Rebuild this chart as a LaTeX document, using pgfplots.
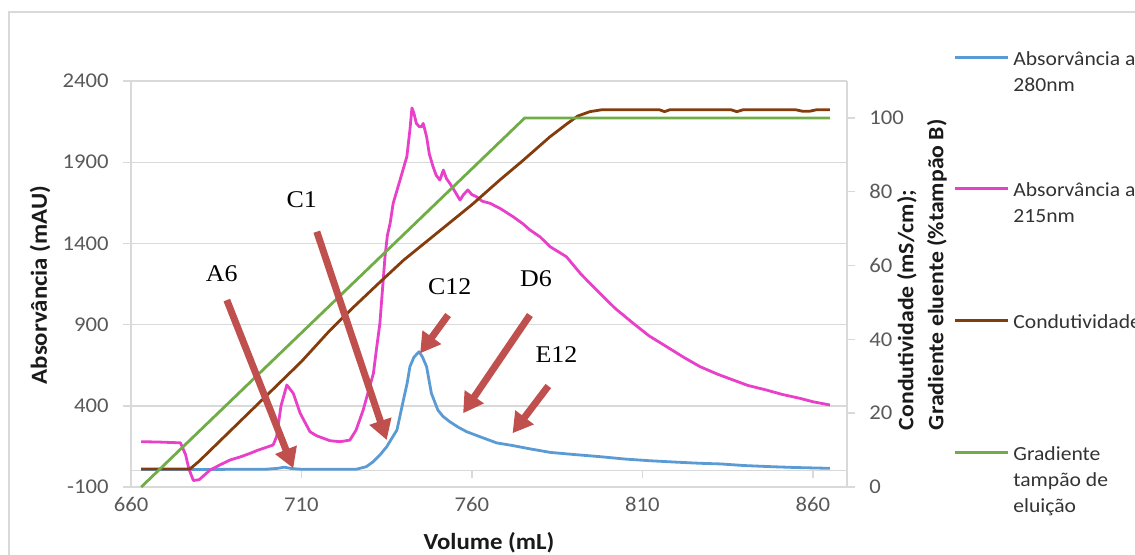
\documentclass[border=0pt]{standalone}
\usepackage{pgfplots}
\pgfplotsset{compat=1.18}
\usepackage{pgfplotstable}
\usetikzlibrary{arrows.meta}
\usepackage{fontspec}
\setmainfont{Carlito}[FakeStretch=1.08]
\newfontfamily\annfont{Liberation Serif}[FakeStretch=1.08]
\definecolor{cblue}{HTML}{5B9BD5}
\definecolor{cmag}{HTML}{E840C8}
\definecolor{cbrown}{HTML}{843C0C}
\definecolor{cgreen}{HTML}{70AD47}
\definecolor{carrow}{HTML}{C0504D}
\definecolor{cgrid}{HTML}{D9D9D9}
\definecolor{ctick}{HTML}{595959}
\definecolor{ctitle}{HTML}{1A1A1A}
\definecolor{clegend}{HTML}{333333}

\pgfplotstableread{
x y
663 8
680 8
700 10
703 15
705 22
707 14
710 9
726 9
729 25
731 55
733 97
735 148
736.5 200
738 251
739.9 436
741 540
741.8 641
743 700
744.5 733
745.5 700
746.7 641
748.1 477
750 374
751.5 335
753.5 302
756 268
758.4 241
762.3 210
767.2 172
772 155
777 135
783 113
790 100
797.5 87
805 72
812 62
820 53
827 46
833 42
840 32
848 25
855 20
865 15
}\bluetable

\pgfplotstableread{
x y
663 179
668 177
674.5 172
676 100
677 10
678.3 -60
680 -55
683.2 5
686 35
689 66
692 85
694.9 107
697 125
698.8 138
701.7 159
702.7 210
704 400
705.7 528
707.6 477
709.6 355
712.5 240
714.5 215
718.4 185
721.3 179
724.2 189
726 250
728.1 374
729.5 480
731.1 600
732 750
733 908
734.5 1318
735.2 1450
736 1524
736.9 1647
738.9 1790
740.9 1934
741.8 2098
742.4 2234
743 2200
743.7 2139
744.5 2120
745.2 2118
745.7 2139
746.7 2057
747.5 1950
748.6 1872
749.5 1820
750.6 1790
751.6 1852
752.5 1800
753.5 1770
755 1720
756.5 1667
757.5 1700
758.8 1729
760 1700
761.3 1688
763 1660
765.3 1647
768.2 1616
772.1 1564
775 1520
777 1483
780 1440
782.9 1380
787.7 1318
792 1210
797.5 1093
802 1000
807.3 908
812 830
817.1 764
822 700
826.9 641
832 595
836.6 559
841 525
846.4 497
851 470
856.2 446
860 425
865 405
}\magtable

\pgfplotstableread{
x y
663 4.9
677.3 4.9
680 7
685 11.5
690 16
695 20.5
700 25
705 29.5
710 34
718.4 42.5
725 48.5
733 55.5
740 61.5
750 69
760 76.5
768.2 83.2
775 88.5
782.9 94.9
788 98.5
791 100.5
794.6 101.7
798 102.2
815 102.2
816.5 101.7
818 102.2
836 102.2
837.7 101.7
839.5 102.2
855 102.2
857 101.8
859 101.8
861 102.2
865 102.2
}\browntable

\pgfplotstableread{
x y
663 0
775.5 100
865 100
}\greentable

\begin{document}
\begin{tikzpicture}
\useasboundingbox (0,0) rectangle (567.5pt,277pt);
\draw[cgrid, line width=1pt] (4.5pt,-20pt) rectangle (620pt,271pt);
\begin{axis}[
  at={(65.5pt,33.5pt)}, anchor=south west,
  scale only axis, width=358pt, height=203pt,
  xmin=660, xmax=870, ymin=-100, ymax=2400,
  xtick={660,710,...,860}, ytick={-100,400,...,2400},
  axis x line*=bottom, axis y line*=left,
  axis line style={-, draw=cgrid, line width=0.7pt},
  ymajorgrids, grid style={cgrid, line width=0.7pt},
  xtick style={draw=none},
  ytick style={cgrid, line width=0.7pt},
  tick align=outside, major tick length=4pt,
  /pgf/number format/assume math mode=true,
  /pgf/number format/1000 sep={},
  ticklabel style={font=\fontsize{10.5}{12}\selectfont, text=ctick},
  xticklabel style={anchor=north, inner sep=0pt, yshift=-1pt},
  yticklabel style={anchor=east, inner sep=0pt, xshift=-7pt},
  xlabel={Volume (mL)}, ylabel={Absorvância (mAU)},
  label style={font=\bfseries\fontsize{11.5}{13}\selectfont, text=ctitle},
  xlabel style={at={(axis description cs:0.5,-0.138)}, anchor=center},
  ylabel style={at={(axis description cs:-0.127,0.4975)}, anchor=center},
  every axis plot/.append style={line width=1.4pt, line join=round},
]
\draw[cgrid, line width=0.7pt] (axis cs:660,0) -- (axis cs:870,0);
\pgfplotsinvokeforeach{660,710,760,810,860}{\draw[cgrid, line width=0.7pt] (axis cs:#1,0) -- ++(0pt,-3.5pt);}
\addplot[cblue] table {\bluetable};
\addplot[cmag] table {\magtable};
\coordinate (A6t) at (axis cs:688.1,1051);
\coordinate (A6h) at (axis cs:707.6,15);
\coordinate (A6l) at (axis cs:686.6,1216);
\coordinate (C1t) at (axis cs:714.5,1472);
\coordinate (C1h) at (axis cs:735.0,189);
\coordinate (C1l) at (axis cs:710.1,1667);
\coordinate (C12t) at (axis cs:753.0,959);
\coordinate (C12h) at (axis cs:744.8,723);
\coordinate (C12l) at (axis cs:753.5,1133);
\coordinate (D6t) at (axis cs:777.0,959);
\coordinate (D6h) at (axis cs:757.4,354);
\coordinate (D6l) at (axis cs:778.8,1185);
\coordinate (E12t) at (axis cs:782.4,522);
\coordinate (E12h) at (axis cs:771.9,231);
\coordinate (E12l) at (axis cs:784.8,713);
\end{axis}
\begin{axis}[
  at={(65.5pt,33.5pt)}, anchor=south west,
  scale only axis, width=358pt, height=203pt,
  xmin=660, xmax=870, ymin=0, ymax=110,
  axis x line=none, axis y line*=right,
  axis line style={-, draw=cgrid, line width=0.7pt},
  ytick={0,20,...,100},
  ytick style={cgrid, line width=0.7pt},
  tick align=outside, major tick length=4pt,
  /pgf/number format/assume math mode=true,
  ticklabel style={font=\fontsize{10.5}{12}\selectfont, text=ctick},
  yticklabel style={anchor=west, inner sep=0pt, xshift=7pt},
  ylabel={Condutividade (mS/cm);\\Gradiente eluente (\%tampão B)},
  ylabel style={font=\bfseries\fontsize{11}{15}\selectfont, text=ctitle, at={(axis description cs:1.1047,0.123)}, anchor=west, align=left},
  every axis plot/.append style={line width=1.4pt, line join=round},
]
\addplot[cbrown] table {\browntable};
\addplot[cgreen] table {\greentable};
\end{axis}
\tikzset{arr/.style={carrow, line width=3.5pt, -{Triangle[length=10pt,width=11pt]}}}
\draw[arr] (A6t) -- (A6h);
\draw[arr] (C1t) -- (C1h);
\draw[arr] (C12t) -- (C12h);
\draw[arr] (D6t) -- (D6h);
\draw[arr] (E12t) -- (E12h);
\begin{scope}[every node/.style={font=\annfont\fontsize{12}{14}\selectfont, text=black}]
\node at (A6l) {A6};
\node at (C1l) {C1};
\node at (C12l) {C12};
\node at (D6l) {D6};
\node at (E12l) {E12};
\end{scope}
% legend
\begin{scope}[every node/.style={font=\fontsize{10}{12}\selectfont, text=clegend, anchor=base west, inner sep=0pt}]
\draw[cblue, line width=1.4pt] (477.5pt,248.25pt) -- (504pt,248.25pt);
\node at (506.5pt,244.25pt) {Absorvância a};
\node at (506.5pt,231.25pt) {280nm};
\draw[cmag, line width=1.4pt] (477.5pt,182.75pt) -- (504pt,182.75pt);
\node at (506.5pt,178.75pt) {Absorvância a};
\node at (506.5pt,165.75pt) {215nm};
\draw[cbrown, line width=1.4pt] (477.5pt,116.75pt) -- (504pt,116.75pt);
\node at (506.5pt,112.75pt) {Condutividade};
\draw[cgreen, line width=1.4pt] (477.5pt,50.6pt) -- (504pt,50.6pt);
\node at (506.5pt,46.6pt) {Gradiente};
\node at (506.5pt,33.6pt) {tampão de};
\node at (506.5pt,20.6pt) {eluição};
\end{scope}
\end{tikzpicture}
\end{document}
